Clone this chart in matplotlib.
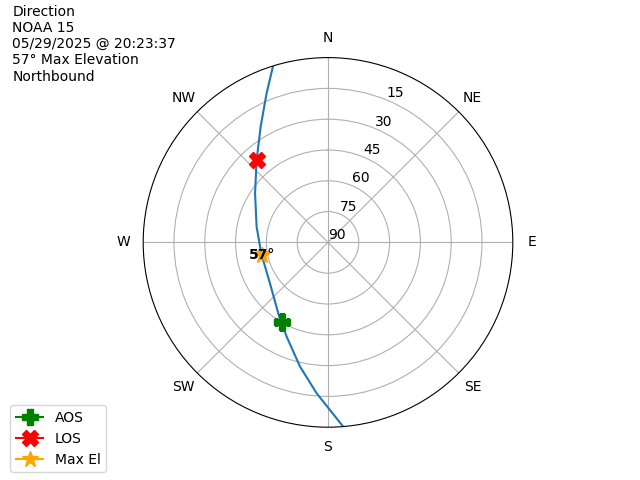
import numpy as np
import matplotlib
matplotlib.use("Agg")
import matplotlib.pyplot as plt

# pass track (azimuth deg, elevation deg)
track_az = [342.7, 337.6, 329.8, 319.1, 303.9, 282.4, 263.6, 257.5, 234.8, 215.0, 203.7, 192.7, 184.3, 175.3]
track_el = [0.0, 11.5, 24.8, 36.9, 47.2, 54.4, 57.0, 57.2, 55.4, 47.8, 39.9, 28.0, 16.3, 0.0]

aos_az, aos_el = 210.0, 45.2
los_az, los_el = 319.2, 36.8
max_az, max_el = 259.0, 57.3

compass = ['N', 'NE', 'E', 'SE', 'S', 'SW', 'W', 'NW']
el_ticks = [15, 30, 45, 60, 75, 90]

info = "Direction\nNOAA 15\n05/29/2025 @ 20:23:37\n57° Max Elevation\nNorthbound"

fig = plt.figure(figsize=(6.4, 4.8), dpi=100)
ax = fig.add_subplot(111, projection='polar')
ax.set_theta_zero_location('N')
ax.set_theta_direction(-1)

ax.plot(np.radians(track_az), track_el)
ax.plot(np.radians(aos_az), aos_el, marker='P', color='green', markersize=12, label='AOS')
ax.plot(np.radians(los_az), los_el, marker='X', color='red', markersize=12, label='LOS')
ax.plot(np.radians(max_az), max_el, marker='*', color='orange', markersize=12, label='Max El')
ax.text(np.radians(max_az), max_el, "57°", fontweight='bold', ha='center', va='center')

ax.set_rlim(90, 0)
ax.set_yticks(el_ticks)
ax.set_thetagrids(range(0, 360, 45), compass)

fig.text(0.019, 0.99, info, ha='left', va='top')
fig.legend(loc='lower left', bbox_to_anchor=(0.005, 0.002))

fig.savefig('out.png')
